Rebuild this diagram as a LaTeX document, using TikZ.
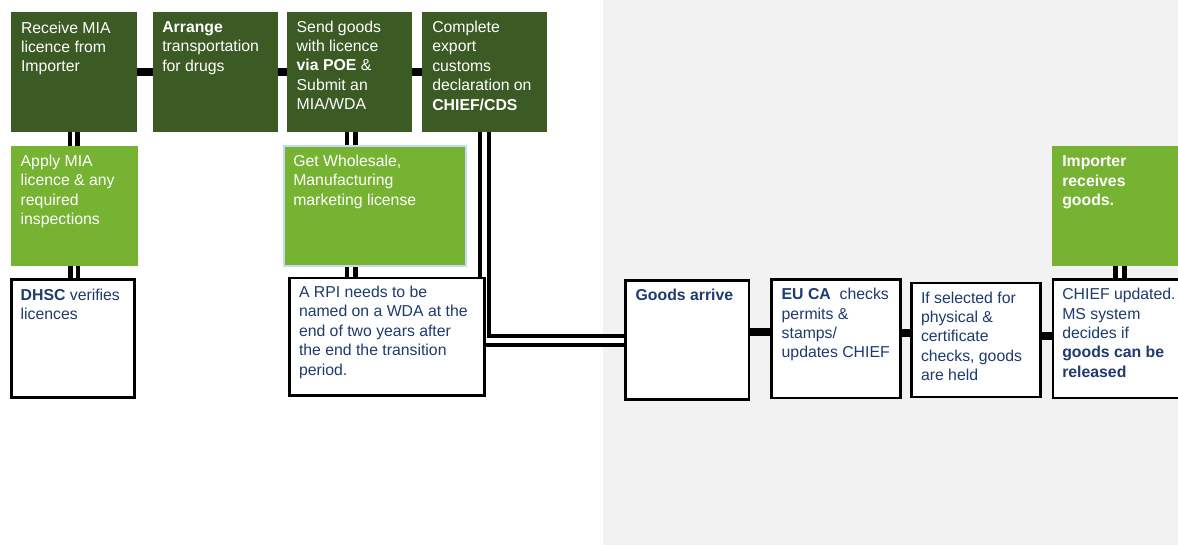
\documentclass[tikz,border=0pt]{standalone}
\usepackage{fontspec}
\setmainfont{Liberation Sans}
\definecolor{dkgreen}{HTML}{3B5A24}
\definecolor{ltgreen}{HTML}{77B332}
\definecolor{navy}{HTML}{1F3A6F}
\definecolor{bgray}{HTML}{F2F2F2}
\definecolor{lblue}{HTML}{C5DAF0}
\pgfdeclarelayer{back}
\pgfdeclarelayer{conn}
\pgfsetlayers{back,conn,main}
\begin{document}
\begin{tikzpicture}[x=1pt,y=-1pt,
  box/.style={rectangle, inner sep=0pt, outer sep=0pt, anchor=north west},
  dbox/.style={box, fill=dkgreen},
  lbox/.style={box, fill=ltgreen},
  wbox/.style={box, fill=white, draw=black, line width=2.6pt},
  txt/.style={inner sep=0pt, outer sep=0pt, anchor=north west, align=left,
    font=\fontsize{15.8}{19.4}\selectfont},
  wtxt/.style={txt, text=white},
  ntxt/.style={txt, text=navy},
  thk/.style={draw=black, line width=8pt},
  dblA/.style={draw=black, line width=4.2pt, double=white, double distance=3.4pt},
  dblB/.style={draw=black, line width=4.5pt, double=white, double distance=4pt},
  dblC/.style={draw=black, line width=4.2pt, double=white, double distance=5pt},
  dblD/.style={draw=black, line width=4.7pt, double=white, double distance=4.4pt}]
\useasboundingbox (0,0) rectangle (1178,545);
\begin{pgfonlayer}{back}
\fill[white] (0,0) rectangle (603,545);
\fill[bgray] (603,0) rectangle (1178,545);
\end{pgfonlayer}

% top row
\node[dbox, minimum width=125.5pt, minimum height=120.5pt] (b1) at (11,12) {};
\node[dbox, minimum width=125pt, minimum height=120.5pt] (b2) at (153,12) {};
\node[dbox, minimum width=125.3pt, minimum height=120.5pt] (b3) at (286.7,12) {};
\node[dbox, minimum width=124.7pt, minimum height=120.5pt] (b4) at (422,12) {};
% second row
\node[lbox, minimum width=126.7pt, minimum height=120pt] (b5) at (11,145.7) {};
\node[lbox, draw=lblue, line width=2pt, minimum width=182pt, minimum height=119.7pt] (b6) at (283.7,146) {};
\node[lbox, minimum width=130pt, minimum height=120pt] (b7) at (1051.7,145.7) {};
% third row
\node[wbox, minimum width=123.4pt, minimum height=117.6pt] (b8) at (11.3,279.7) {};
\node[wbox, minimum width=195pt, minimum height=117.5pt] (b9) at (289.5,278) {};
\node[wbox, minimum width=123.7pt, minimum height=119pt] (b10) at (625.3,280.7) {};
\node[wbox, minimum width=129pt, minimum height=118.3pt] (b11) at (771.3,279.7) {};
\node[wbox, minimum width=129.4pt, minimum height=114pt] (b12) at (911.3,283) {};
\node[wbox, minimum width=130pt, minimum height=118.3pt] (b13) at (1053,279.7) {};

\coordinate (c3) at ([xshift=2pt]b3.south);
\coordinate (c7) at ([xshift=3pt]b7.south);

\begin{pgfonlayer}{conn}
\draw[thk] (b1) -- (b2);
\draw[thk] (b2) -- (b3);
\draw[thk] (b3) -- (b4);
\draw[dblA] (b1.south) -- (b1.south |- b5.north);
\draw[dblA] (b5.south) -- (b5.south |- b8.north);
\draw[dblB] (c3) -- (c3 |- b6.north);
\draw[dblB] (c3 |- b6.south) -- (c3 |- b9.north);
\draw[dblC] (b4.south) |- (b10.west);
\draw[thk] ([yshift=8pt]b10.east) -- ([yshift=8pt]b10.east -| b11.west);
\draw[thk] ([yshift=5.8pt]b11.east) -- ([yshift=5.8pt]b11.east -| b12.west);
\draw[thk] ([yshift=4pt]b12.east) -- ([yshift=4pt]b12.east -| b13.west);
\draw[dblD] (c7) -- (c7 |- b13.north);
\end{pgfonlayer}

% texts
\node[wtxt] (t1) at (21,21.7) {Receive MIA\\licence from\\Importer};
\node[wtxt] (t2) at (162.3,21.7) {\textbf{Arrange}\\transportation\\for drugs};
\node[wtxt] (t3) at (296.7,20.7) {Send goods\\with licence\\\textbf{via POE} \&\\Submit an\\MIA/WDA};
\node[wtxt] (t4) at (432.3,21) {Complete\\export\\customs\\declaration on\\\textbf{CHIEF/CDS}};
\node[wtxt] (t5) at (20.7,155) {Apply MIA\\licence \& any\\required\\inspections};
\node[wtxt] (t6) at (293.3,155) {Get Wholesale,\\Manufacturing\\marketing license};
\node[wtxt, font=\fontsize{15.8}{19.4}\selectfont\bfseries] (t7) at (1062.3,156) {Importer\\receives\\goods.};
\node[ntxt] (t8) at (20.7,289) {\textbf{DHSC} verifies\\licences};
\node[ntxt] (t9) at (299,286) {A RPI needs to be\\named on a WDA at the\\end of two years after\\the end the transition\\period.};
\node[ntxt] (t10) at (635.7,289.3) {\textbf{Goods arrive}};
\node[ntxt] (t11) at (781.7,288.3) {\textbf{EU CA}\ \ checks\\permits \&\\stamps/\\updates CHIEF};
\node[ntxt] (t12) at (921,291.7) {If selected for\\physical \&\\certificate\\checks, goods\\are held};
\node[ntxt] (t13) at (1062.3,288.3) {CHIEF updated.\\MS system\\decides if\\\textbf{goods can be}\\\textbf{released}};
\end{tikzpicture}
\end{document}
